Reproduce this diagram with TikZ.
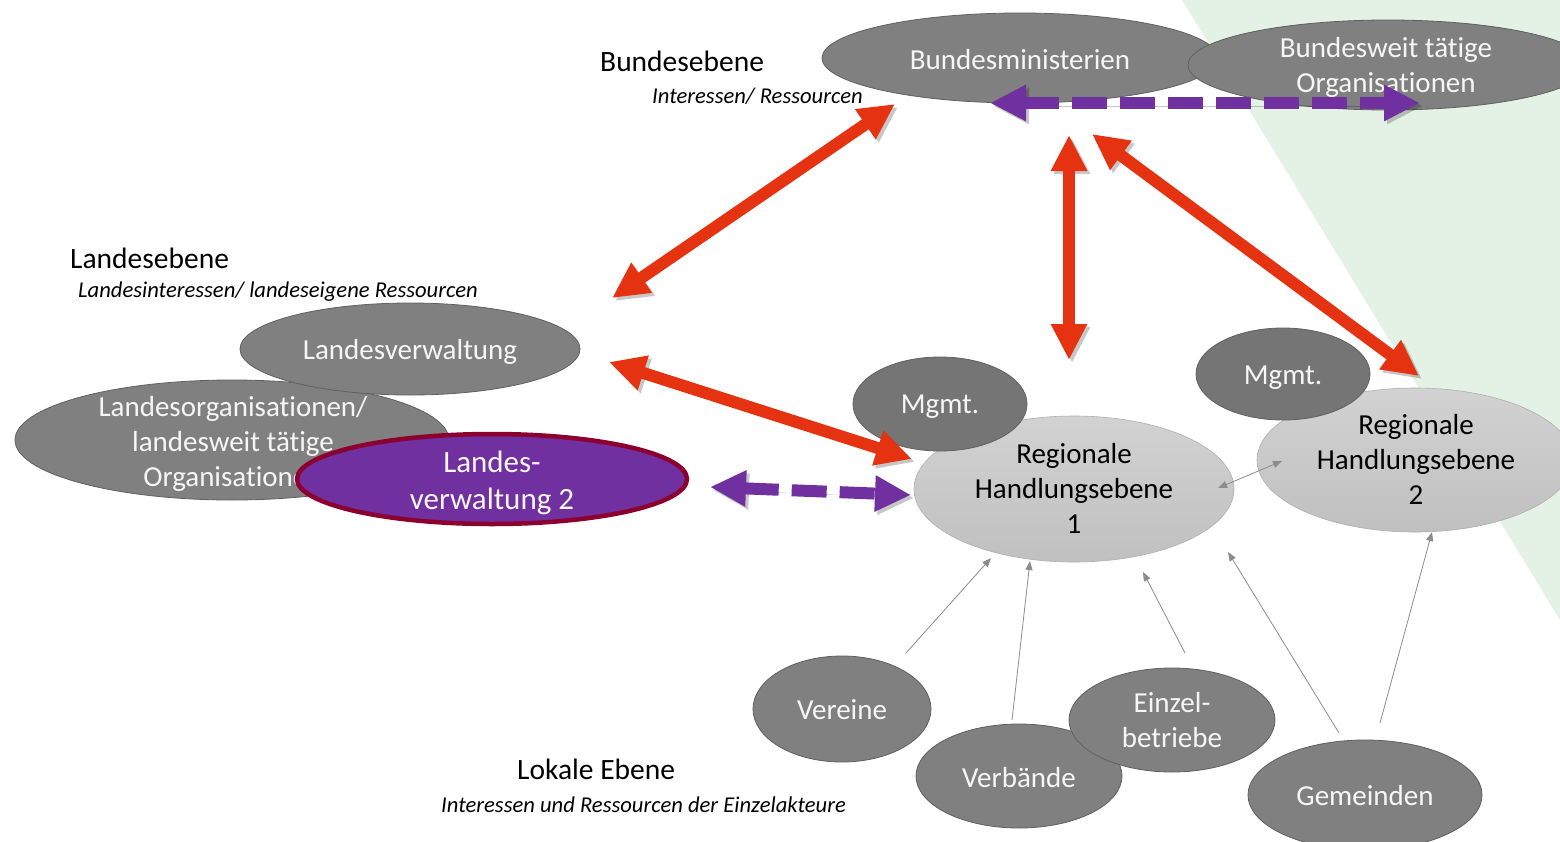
\documentclass[tikz,border=0pt]{standalone}
\usepackage{fontspec}
\setmainfont{Carlito}[Ligatures=CommonOff]
\usetikzlibrary{shapes.geometric,arrows.meta}
\definecolor{bggreen}{RGB}{228,242,230}
\definecolor{ellgray}{RGB}{128,128,128}
\definecolor{mgmtgray}{RGB}{117,117,117}
\definecolor{ellline}{RGB}{96,96,96}
\definecolor{reglight}{RGB}{210,210,210}
\definecolor{regdark}{RGB}{192,192,192}
\definecolor{reglinec}{RGB}{175,175,175}
\definecolor{purp}{RGB}{112,48,160}
\definecolor{crimson}{RGB}{140,0,48}
\definecolor{arrred}{RGB}{229,51,18}
\definecolor{thingray}{RGB}{140,140,140}
\definecolor{offwhite}{RGB}{246,246,246}
\tikzset{
  ellbase/.style={ellipse, inner sep=0pt, outer sep=0pt},
  grayell/.style={ellbase, draw=ellline, line width=0.8pt, fill=ellgray},
  mgmtell/.style={ellbase, draw=ellline, line width=0.8pt, fill=mgmtgray},
  regell/.style={ellbase, draw=reglinec, line width=0.6pt, top color=reglight, bottom color=regdark},
  purpell/.style={ellbase, draw=crimson, line width=4.5pt, fill=purp},
  wtxt/.style={align=center, inner sep=0pt, text=offwhite, font=\fontsize{29}{35}\selectfont},
  btxt/.style={align=center, inner sep=0pt, text=black, font=\fontsize{29}{35}\selectfont},
  ptxt/.style={align=center, inner sep=0pt, text=offwhite, font=\fontsize{31}{37}\selectfont},
  levtitle/.style={inner sep=0pt, anchor=west, font=\fontsize{29.5}{35}\selectfont},
  levsub/.style={inner sep=0pt, anchor=west, font=\fontsize{22.6}{26}\itshape},
  redarr/.style={line width=12pt, draw=arrred,
    {Triangle[length=36pt,width=34pt]}-{Triangle[length=36pt,width=34pt]},
    preaction={draw=black, opacity=0.22, transform canvas={shift={(3pt,-3pt)}}}},
  purparr/.style={line width=12pt, draw=purp, dash pattern=on 35pt off 13pt,
    {Triangle[length=36pt,width=34pt]}-{Triangle[length=36pt,width=34pt]},
    preaction={draw=black, opacity=0.22, transform canvas={shift={(3pt,-3pt)}}}},
  thinarr/.style={line width=0.8pt, draw=thingray, -{Triangle[length=9pt,width=7pt]}},
  thinarrb/.style={line width=0.8pt, draw=thingray, {Triangle[length=9pt,width=7pt]}-{Triangle[length=9pt,width=7pt]}}
}
\begin{document}
\begin{tikzpicture}[x=1pt,y=-1pt]
\useasboundingbox (0,0) rectangle (1560,841);
\clip (0,0) rectangle (1560,841);
\fill[white] (0,0) rectangle (1560,841);
\fill[bggreen] (1182,0) -- (1560,0) -- (1560,620) -- cycle;

% level labels
\node[levtitle] (tbund) at (600,61) {Bundesebene};
\node[levsub] (sbund) at (652,96) {Interessen/ Ressourcen};
\node[levtitle] (tland) at (70,258) {Landesebene};
\node[levsub] (sland) at (78,292) {Landesinteressen/ landeseigene Ressourcen};
\node[levtitle] (tlok) at (517,769) {Lokale Ebene};
\node[levsub] (slok) at (441,805) {Interessen und Ressourcen der Einzelakteure};

% federal level
\node[grayell, minimum width=396pt, minimum height=90pt] (bm) at (1020,58) {};
\node[wtxt, yshift=-2pt] (bmtxt) at (bm.center) {Bundesministerien};
\node[grayell, minimum width=400pt, minimum height=90pt] (bw) at (1388,65) {};
\node[wtxt, yshift=-2.5pt] (bwtxt) at (1386,65) {Bundesweit tätige\\Organisationen};

% state level
\node[grayell, minimum width=434pt, minimum height=120pt] (lo) at (232,440) {};
\node[wtxt, yshift=-3pt] (lotxt) at (233,441) {Landesorganisationen/\\landesweit tätige\\Organisationen};
\node[grayell, minimum width=340pt, minimum height=92pt] (lv) at (410,349) {};
\node[wtxt, yshift=-3pt] (lvtxt) at (lv.center) {Landesverwaltung};
\node[purpell, minimum width=390pt, minimum height=90pt] (lv2) at (492,479) {};
\node[ptxt, yshift=-4pt] (lv2txt) at (lv2.center) {Landes-\\verwaltung 2};

% regional level
\node[regell, minimum width=320pt, minimum height=146pt] (reg1) at (1074,489) {};
\node[btxt] (reg1txt) at (1074,488) {Regionale\\Handlungsebene\\1};
\node[regell, minimum width=316pt, minimum height=144pt] (reg2) at (1415,460) {};
\node[btxt] (reg2txt) at (1416,459) {Regionale\\Handlungsebene\\2};
\node[mgmtell, minimum width=174pt, minimum height=94pt] (mg1) at (940,404) {};
\node[wtxt, yshift=-3pt] (mg1txt) at (mg1.center) {Mgmt.};
\node[mgmtell, minimum width=174pt, minimum height=92pt] (mg2) at (1283,374) {};
\node[wtxt, yshift=-4pt] (mg2txt) at (mg2.center) {Mgmt.};

% local level
\node[grayell, minimum width=178pt, minimum height=106pt] (ver) at (842,709) {};
\node[wtxt, yshift=-1pt] (vertxt) at (ver.center) {Vereine};
\node[grayell, minimum width=206pt, minimum height=104pt] (vbd) at (1019,776) {};
\node[wtxt, yshift=-2pt] (vbdtxt) at (vbd.center) {Verbände};
\node[grayell, minimum width=206pt, minimum height=104pt] (ezb) at (1172,720) {};
\node[wtxt] (ezbtxt) at (ezb.center) {Einzel-\\betriebe};
\node[grayell, minimum width=234pt, minimum height=110pt] (gem) at (1365,795) {};
\node[wtxt, yshift=-1pt] (gemtxt) at (gem.center) {Gemeinden};

% connector end points
\coordinate (r1a) at (612,298);  \coordinate (r1b) at (895,104);
\coordinate (r2a) at (609,362);  \coordinate (r2b) at (912,459);
\coordinate (r3a) at (1069,135); \coordinate (r3b) at (1069,360);
\coordinate (r4a) at (1092,134); \coordinate (r4b) at (1419,376);
\coordinate (p1a) at (990,103);  \coordinate (p1b) at (1420,103);
\coordinate (p2a) at (710,487);  \coordinate (p2b) at (911,495);
\coordinate (t0a) at (1218,488); \coordinate (t0b) at (1282,461);
\coordinate (t1a) at (906,653);  \coordinate (t1b) at (991,558);
\coordinate (t2a) at (1012,720); \coordinate (t2b) at (1030,561);
\coordinate (t3a) at (1185,653); \coordinate (t3b) at (1143,572);
\coordinate (t4a) at (1339,733); \coordinate (t4b) at (1228,552);
\coordinate (t5a) at (1380,723); \coordinate (t5b) at (1432,532);

% thin grey arrows
\draw[thinarrb] (t0a) -- (t0b);
\draw[thinarr] (t1a) -- (t1b);
\draw[thinarr] (t2a) -- (t2b);
\draw[thinarr] (t3a) -- (t3b);
\draw[thinarr] (t4a) -- (t4b);
\draw[thinarr] (t5a) -- (t5b);

% red arrows
\draw[redarr] (r1a) -- (r1b);
\draw[redarr] (r2a) -- (r2b);
\draw[redarr] (r3a) -- (r3b);
\draw[redarr] (r4a) -- (r4b);

% purple dashed arrows
\draw[purparr] (p1a) -- (p1b);
\draw[purparr] (p2a) -- (p2b);
\end{tikzpicture}
\end{document}
